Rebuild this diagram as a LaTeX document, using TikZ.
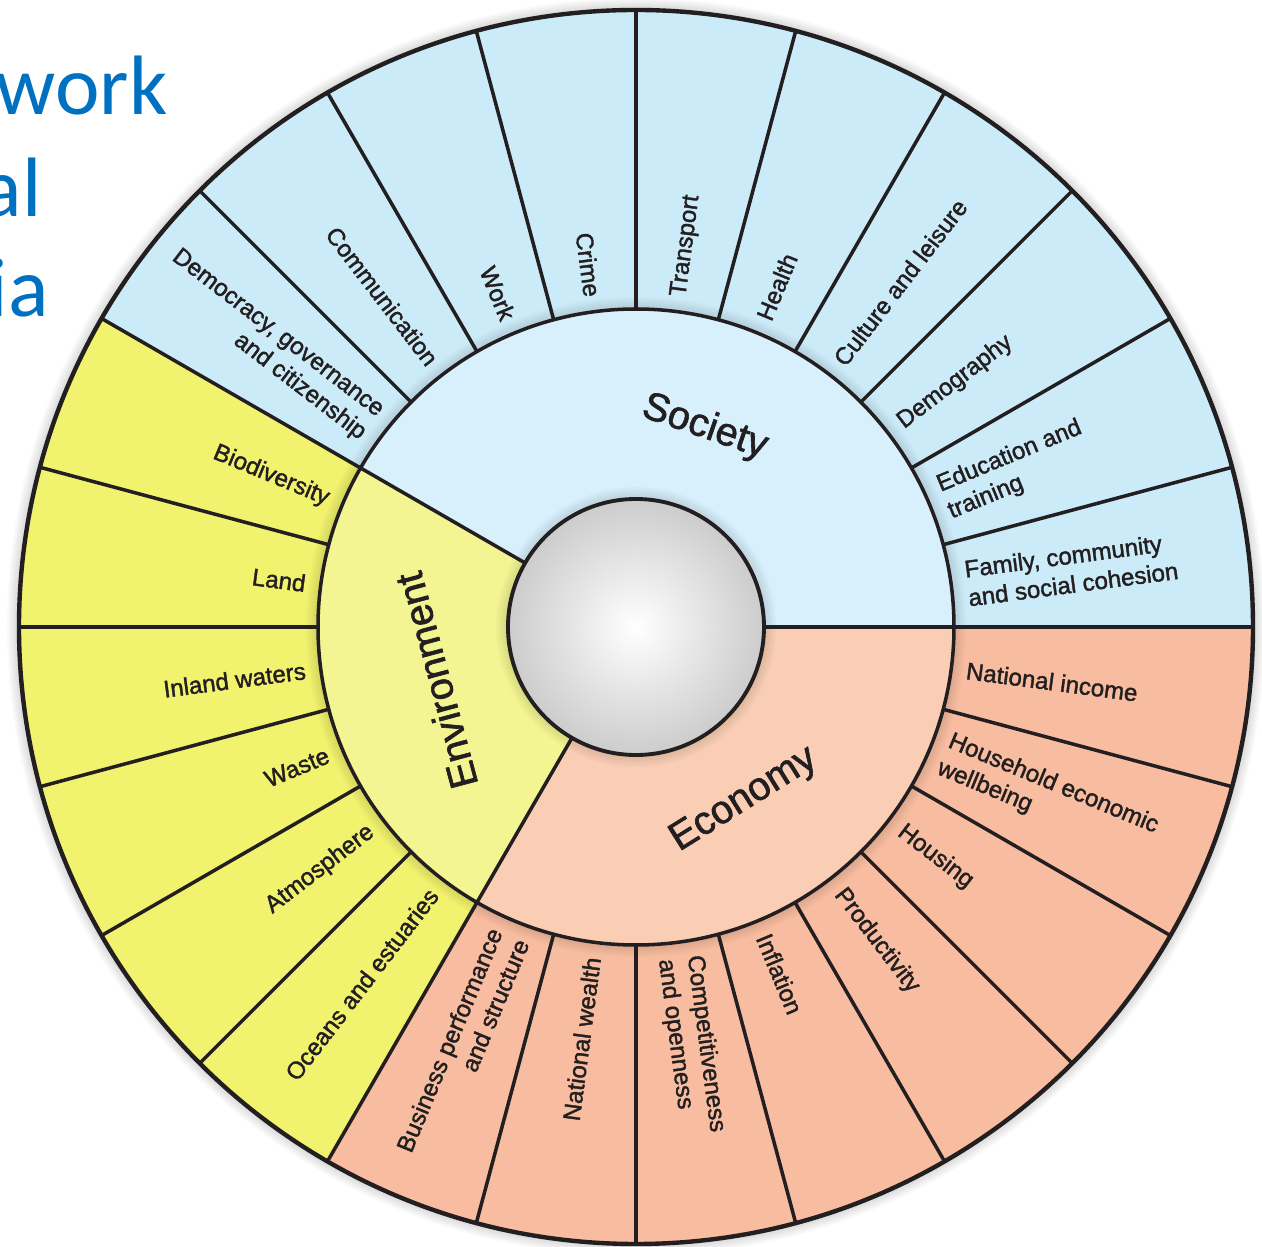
\documentclass[tikz,border=0pt]{standalone}
\usepackage{fontspec}
\setmainfont{Liberation Sans}
\newfontfamily\wheelfont{Liberation Sans}[FakeBold=1.6]
\newfontfamily\slidefont{Carlito}
\definecolor{socout}{HTML}{CCEBF8}
\definecolor{socin}{HTML}{D8F0FB}
\definecolor{envout}{HTML}{F1F26E}
\definecolor{envin}{HTML}{F3F592}
\definecolor{ecoout}{HTML}{F8BDA0}
\definecolor{ecoin}{HTML}{F9CEB5}
\definecolor{rim}{HTML}{231F20}
\definecolor{slideblue}{HTML}{0070C0}

\begin{document}
\begin{tikzpicture}[x=0.02cm, y=0.02cm,
    spoke/.style={rim, line width=2pt},
    seglabR/.style={anchor=west, align=left, inner sep=0pt, text=rim,
                    font=\wheelfont\fontsize{13.7}{16.5}\selectfont},
    seglabL/.style={seglabR, anchor=east, align=right},
    catlab/.style={inner sep=0pt, text=rim,
                   font=\wheelfont\fontsize{22.5}{26}\selectfont},
    slidetext/.style={anchor=base east, inner sep=0pt, text=slideblue,
                      font=\slidefont\fontsize{48}{57}\selectfont}]
    \newcommand{\outrad}{617}
    \newcommand{\midrad}{318}
    \newcommand{\inrad}{128}
    \newcommand{\labrad}{333}

    \useasboundingbox (-636,-620) rectangle (626,627);
    \fill[white] (-636,-620) rectangle (626,627);

    % slide title behind the wheel
    \node[slidetext] (sw) at (-468,512) {work};
    \node[slidetext] (sa) at (-594,410) {al};
    \node[slidetext] (si) at (-587,310) {ia};

    % soft shadow round the wheel
    \foreach \s in {1,...,8}
      \fill[black, opacity=0.02] (0,0) circle (\outrad+\s*1.5);

    % outer ring
    \foreach \from/\to/\col in {0/150/socout, 150/240/envout, 240/360/ecoout}
      \fill[\col] (0,0) -- (\from:\outrad)
        arc[start angle=\from, end angle=\to, radius=\outrad] -- cycle;
    \foreach \s in {1,...,6}
      \fill[black, opacity=0.02] (0,0) circle (\midrad+\s*2);

    % inner ring (the three domains)
    \foreach \from/\to/\col in {0/150/socin, 150/240/envin, 240/360/ecoin}
      \fill[\col] (0,0) -- (\from:\midrad)
        arc[start angle=\from, end angle=\to, radius=\midrad] -- cycle;
    \foreach \s in {1,...,6}
      \fill[black, opacity=0.02] (0,0) circle (\inrad+\s*2);

    % spokes
    \foreach \a in {0,15,...,345}
      \draw[spoke] (\a:\midrad) -- (\a:\outrad);
    \foreach \a in {0,150,240}
      \draw[spoke] (\a:\inrad) -- (\a:\midrad);

    % rings
    \draw[rim, line width=2.5pt] (0,0) circle (\outrad);
    \draw[spoke] (0,0) circle (\midrad);
    \shade[inner color=white, outer color=gray!40] (0,0) circle (\inrad);
    \draw[rim, line width=2.2pt] (0,0) circle (\inrad);

    % domains
    \node[catlab, rotate=-19] (soc) at (71:211) {Society};
    \node[catlab, rotate=105] (env) at (195:207) {Environment};
    \node[catlab, rotate=32] (eco) at (302:204) {Economy};

    % indicators, right half
    \foreach \a/\txt [count=\i] in {7.5/{Family, community\\and social cohesion},
        22.5/{Education and\\training}, 37.5/Demography, 52.5/Culture and leisure,
        67.5/Health, 82.5/Transport, 277.5/{Competitiveness\\and openness},
        292.5/Inflation, 307.5/Productivity, 322.5/Housing,
        337.5/{Household economic\\wellbeing}, 352.5/National income}
      \node[seglabR, rotate=\a] (segR\i) at (\a:\labrad) {\txt};

    % indicators, left half
    \foreach \a/\txt [count=\i] in {97.5/Crime, 112.5/Work, 127.5/Communication,
        142.5/{Democracy, governance\\and citizenship}, 157.5/Biodiversity,
        172.5/Land, 187.5/Inland waters, 202.5/Waste, 217.5/Atmosphere,
        232.5/Oceans and estuaries, 247.5/{Business performance\\and structure},
        262.5/National wealth}
      \node[seglabL, rotate=\a-180] (segL\i) at (\a:\labrad) {\txt};
\end{tikzpicture}
\end{document}
